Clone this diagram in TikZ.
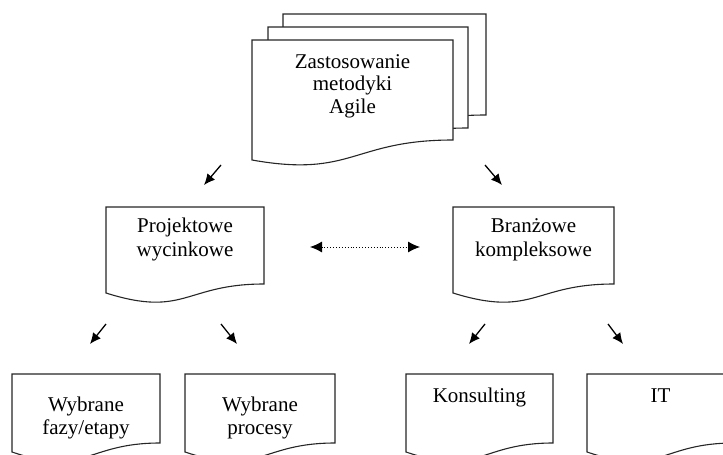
\documentclass[tikz,border=0pt]{standalone}
\usepackage{fontspec}
\setmainfont{Liberation Serif}
\usetikzlibrary{arrows.meta}
\newcommand{\docshape}[6]{% x1, ytop, x2, y right bottom, y left bottom, y control
  \filldraw[docline] (#1,#2) -- (#3,#2) -- (#3,#4)
    .. controls ({(#1+#3)/2},#4) and ({(#1+#3)/2},#6) .. (#1,#5) -- cycle;}
\tikzset{
  docline/.style={draw=black!85, fill=white, line width=1.1pt},
  doctext/.style={anchor=north, align=center, inner sep=0pt, text=black},
  toptext/.style={doctext, font=\fontsize{21}{22.5}\selectfont},
  midtext/.style={doctext, font=\fontsize{21}{24.5}\selectfont},
  bottext/.style={doctext, font=\fontsize{21}{22.5}\selectfont},
  smallarrow/.style={draw=black, line width=1.3pt, -{Latex[length=11pt,width=10pt]}},
  dblarrow/.style={draw=black, line width=0.9pt, dotted, {Latex[length=12pt,width=11pt]}-{Latex[length=12pt,width=11pt]}}
}
\begin{document}
\begin{tikzpicture}[x=1pt,y=-1pt]
\useasboundingbox (0,0) rectangle (723,455);
\clip (0,0) rectangle (723,455);
% top stacked documents
\docshape{283}{14}{486}{115}{135}{153}
\docshape{268}{27}{468}{128}{148}{166}
\docshape{252}{40}{453}{140}{160}{178}
\node[toptext] (agile) at (352.5,52.25) {\strut Zastosowanie\\metodyki\\Agile};
% middle documents
\docshape{106}{207}{264}{284}{293}{318}
\node[midtext] (proj) at (185,214.85) {\strut Projektowe\\wycinkowe};
\docshape{453}{207}{614}{284}{293}{318}
\node[midtext] (branz) at (533.5,214.85) {\strut Branżowe\\kompleksowe};
% bottom documents
\docshape{12}{374}{160}{443}{452}{477}
\node[bottext] (fazy) at (86,395.95) {\strut Wybrane\\fazy/etapy};
\docshape{185}{374}{335}{443}{452}{477}
\node[bottext] (proc) at (260,395.95) {\strut Wybrane\\procesy};
\docshape{406}{374}{553}{443}{452}{477}
\node[bottext] (kons) at (479.5,386.95) {\strut Konsulting};
\docshape{587}{374}{734}{443}{452}{477}
\node[bottext] (it) at (660.5,386.95) {\strut IT};
% arrow end points
\coordinate (t1s) at (221,165); \coordinate (t1e) at (204,185);
\coordinate (t2s) at (485,165); \coordinate (t2e) at (502,185);
\coordinate (b1s) at (106,324); \coordinate (b1e) at (90,344);
\coordinate (b2s) at (221,324); \coordinate (b2e) at (237,344);
\coordinate (b3s) at (485,324); \coordinate (b3e) at (469,344);
\coordinate (b4s) at (608,324); \coordinate (b4e) at (623,344);
\coordinate (dl) at (310,247); \coordinate (dr) at (420,247);
\draw[smallarrow] (t1s) -- (t1e);
\draw[smallarrow] (t2s) -- (t2e);
\draw[smallarrow] (b1s) -- (b1e);
\draw[smallarrow] (b2s) -- (b2e);
\draw[smallarrow] (b3s) -- (b3e);
\draw[smallarrow] (b4s) -- (b4e);
\draw[dblarrow] (dl) -- (dr);
\end{tikzpicture}
\end{document}
